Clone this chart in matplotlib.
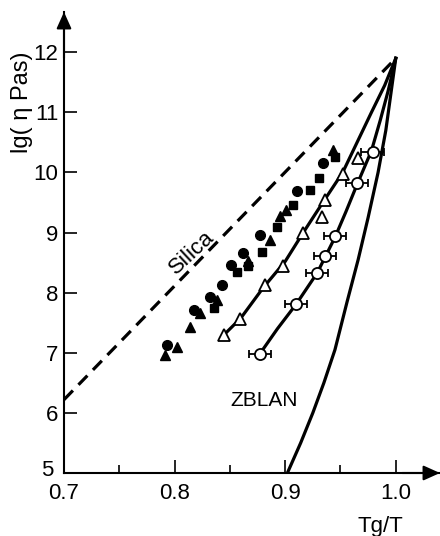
import matplotlib
matplotlib.use('Agg')
import matplotlib.pyplot as plt
from matplotlib import font_manager
from matplotlib.transforms import ScaledTranslation

# fonts: narrow sans for the tick numbers if it is installed
names = {f.name for f in font_manager.fontManager.ttflist}
narrow = 'Liberation Sans Narrow' if 'Liberation Sans Narrow' in names else 'Liberation Sans'
plt.rcParams['font.family'] = ['Liberation Sans', 'DejaVu Sans']

# filled symbols (several glasses)
fc_x = [0.793, 0.818, 0.832, 0.843, 0.851, 0.862, 0.877, 0.911, 0.934]
fc_y = [7.13, 7.71, 7.93, 8.13, 8.46, 8.66, 8.96, 9.69, 10.16]
fs_x = [0.836, 0.856, 0.866, 0.879, 0.893, 0.907, 0.922, 0.931, 0.945]
fs_y = [7.75, 8.34, 8.44, 8.68, 9.09, 9.46, 9.71, 9.91, 10.26]
ft_x = [0.791, 0.802, 0.814, 0.823, 0.838, 0.866, 0.886, 0.895, 0.901, 0.943]
ft_y = [6.96, 7.10, 7.43, 7.66, 7.88, 8.53, 8.88, 9.28, 9.38, 10.37]

# open triangles and their curve
ot_x = [0.845, 0.859, 0.882, 0.898, 0.916, 0.933, 0.936, 0.952, 0.966]
ot_y = [7.30, 7.56, 8.13, 8.44, 8.99, 9.26, 9.54, 9.98, 10.24]
ot_cx = [0.842, 0.86, 0.88, 0.90, 0.916, 0.934, 0.952, 0.965, 0.978, 0.99, 1.0]
ot_cy = [7.25, 7.58, 8.08, 8.52, 8.99, 9.50, 10.0, 10.5, 11.0, 11.45, 11.9]

# open circles with error bars and their curve
oc_x = [0.877, 0.910, 0.929, 0.936, 0.945, 0.965, 0.979]
oc_y = [6.98, 7.81, 8.33, 8.61, 8.94, 9.83, 10.34]
oc_err = [0.01, 0.01, 0.01, 0.01, 0.01, 0.01, 0.01]
oc_cx = [0.877, 0.893, 0.910, 0.929, 0.945, 0.955, 0.965, 0.978, 0.986, 0.993, 1.0]
oc_cy = [6.98, 7.40, 7.81, 8.33, 8.92, 9.35, 9.80, 10.36, 10.87, 11.35, 11.9]

# ZBLAN curve
zb_x = [0.902, 0.914, 0.925, 0.935, 0.945, 0.956, 0.966, 0.975, 0.984, 0.991, 1.0]
zb_y = [5.0, 5.5, 6.0, 6.5, 7.05, 7.85, 8.55, 9.25, 10.0, 10.7, 11.9]

# silica line
si_x = [0.7, 1.0]
si_y = [6.22, 11.9]

xticks = [0.7, 0.8, 0.9, 1.0]
xticklabels = ['0.7', '0.8', '0.9', '1.0']
yticks = [5, 6, 7, 8, 9, 10, 11, 12]

fig = plt.figure(figsize=(4.4, 5.36), dpi=100)
ax = fig.add_axes([64 / 440, 63 / 536, 376 / 440, 461 / 536])
ax.set_xlim(0.7, 1.04)
ax.set_ylim(5, 12.67)

ax.plot(si_x, si_y, 'k', lw=2.3, dashes=(4, 2.5))
ax.plot(ot_cx, ot_cy, 'k', lw=2.3)
ax.plot(oc_cx, oc_cy, 'k', lw=2.3)
ax.plot(zb_x, zb_y, 'k', lw=2.3)

ax.plot(fc_x, fc_y, 'o', color='k', ms=7)
ax.plot(fs_x, fs_y, 's', color='k', ms=6)
ax.plot(ft_x, ft_y, '^', color='k', ms=7.5)
ax.plot(ot_x, ot_y, '^', mfc='white', mec='k', mew=1.3, ms=9)
ax.errorbar(oc_x, oc_y, xerr=oc_err, fmt='o', mfc='white', mec='k', mew=1.3,
            ms=8, ecolor='k', elinewidth=1.3, capsize=3, capthick=1.3)

ax.text(0.8156, 8.66, 'Silica', rotation=43, fontsize=16,
        ha='center', va='center')
ax.text(0.881, 6.2, 'ZBLAN', fontsize=15, ha='center', va='center')

# axes: left and bottom only, with arrow heads
for s in ['top', 'right']:
    ax.spines[s].set_visible(False)
for s in ['left', 'bottom']:
    ax.spines[s].set_linewidth(1.5)
arrow = dict(arrowstyle='-|>,head_length=1.0,head_width=0.45', color='k',
             lw=1.5, shrinkA=0, shrinkB=0, mutation_scale=10)
ax.annotate('', xy=(0, 1), xytext=(0, 0.9), xycoords='axes fraction',
            arrowprops=arrow, annotation_clip=False)
ax.annotate('', xy=(1, 0), xytext=(0.9, 0), xycoords='axes fraction',
            arrowprops=arrow, annotation_clip=False)

ax.set_xticks(xticks)
ax.set_xticklabels(xticklabels)
ax.set_xticks([0.75, 0.85, 0.95], minor=True)
ax.set_yticks(yticks)
ax.tick_params(direction='in', length=9.5, width=1.2, labelsize=16)
ax.tick_params(axis='x', pad=7)
ax.tick_params(axis='y', pad=4)
ax.tick_params(which='minor', direction='in', length=6, width=1.2)
for lab in ax.get_xticklabels() + ax.get_yticklabels():
    lab.set_fontfamily(narrow)

# the "5" sits up and to the left of the corner, clear of "0.7"
lab5 = ax.get_yticklabels()[0]
lab5.set_transform(lab5.get_transform() +
                   ScaledTranslation(-5 / 100, 5 / 100, fig.dpi_scale_trans))

fig.text(22 / 440, 1 - 102 / 536, 'lg( η Pas)', rotation=90, fontsize=17,
         ha='center', va='center')
fig.text(380 / 440, 4 / 536, 'Tg/T', fontsize=16, ha='center', va='baseline')

fig.savefig('out.png', dpi=100)
